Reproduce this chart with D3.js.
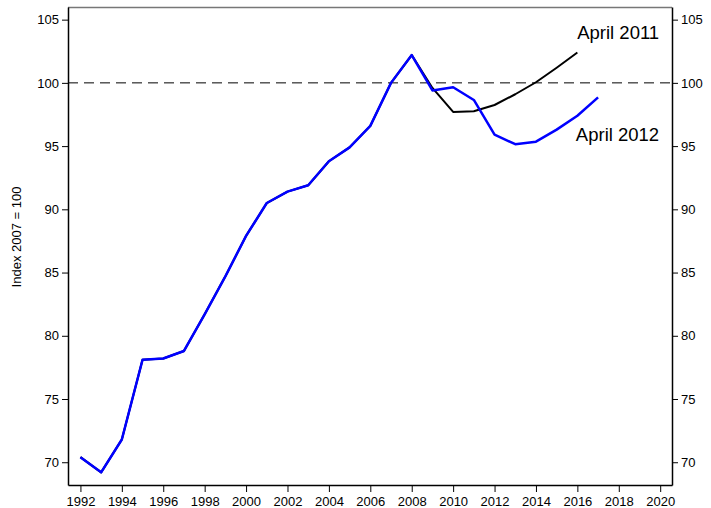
<!DOCTYPE html>
<html>
<head>
<meta charset="utf-8">
<script src="https://cdn.jsdelivr.net/npm/d3@7"></script>
<style>
  body { margin: 0; background: #fff; }
  text { font-family: "Liberation Sans", Arial, sans-serif; }
</style>
</head>
<body>
<div class="wrapper"></div>
<script>
// years and index values
const yearsApr2012 = [1992, 1993, 1994, 1995, 1996, 1997, 1998, 1999, 2000, 2001, 2002, 2003, 2004,
    2005, 2006, 2007, 2008, 2009, 2010, 2011, 2012, 2013, 2014, 2015, 2016, 2017];
const valuesApr2012 = [70.4, 69.2, 71.8, 78.1, 78.2, 78.8, 81.7, 84.7, 87.9, 90.5, 91.4, 91.9, 93.8,
    94.9, 96.6, 100.0, 102.2, 99.4, 99.65, 98.65, 95.9, 95.15, 95.35, 96.3, 97.4, 98.85];

const yearsApr2011 = [1992, 1993, 1994, 1995, 1996, 1997, 1998, 1999, 2000, 2001, 2002, 2003, 2004,
    2005, 2006, 2007, 2008, 2009, 2010, 2011, 2012, 2013, 2014, 2015, 2016];
const valuesApr2011 = [70.4, 69.2, 71.8, 78.1, 78.2, 78.8, 81.7, 84.7, 87.9, 90.5, 91.4, 91.9, 93.8,
    94.9, 96.6, 100.0, 102.2, 99.6, 97.7, 97.75, 98.25, 99.1, 100.05, 101.2, 102.4];

const xTicks = d3.range(1992, 2021, 2);
const yTicks = [70, 75, 80, 85, 90, 95, 100, 105];

const W = 711, H = 508;
const margin = {top: 7, right: 39, bottom: 23, left: 68};
const width = W - margin.left - margin.right,
    height = H - margin.top - margin.bottom;

const svg = d3.select(".wrapper").append("svg")
    .attr("width", W)
    .attr("height", H);

const g = svg.append("g")
    .attr("transform", "translate(" + margin.left + "," + margin.top + ")");

const x = d3.scaleLinear().domain([1991.4, 2020.57]).range([0, width]);
const y = d3.scaleLinear().domain([68.2, 106.0]).range([height, 0]);

// frame: top border grey
g.append("line")
    .attr("x1", 0).attr("x2", width)
    .attr("y1", 0.5).attr("y2", 0.5)
    .attr("stroke", "#777").attr("stroke-width", 1.5);

// axes
const axisStyle = sel => {
    sel.select(".domain").attr("stroke", "#000").attr("stroke-width", 1.5);
    sel.selectAll(".tick line").attr("stroke", "#000").attr("stroke-width", 1);
    sel.selectAll(".tick text").attr("font-size", 13).attr("fill", "#000")
        .style("font-family", '"Liberation Sans", Arial, sans-serif');
};

g.append("g")
    .attr("transform", "translate(0," + height + ")")
    .call(d3.axisBottom(x).tickValues(xTicks).tickFormat(d3.format("d")).tickSize(7).tickSizeOuter(0).tickPadding(5))
    .call(axisStyle);

g.append("g")
    .call(d3.axisLeft(y).tickValues(yTicks).tickSize(6).tickSizeOuter(0).tickPadding(3))
    .call(axisStyle);

g.append("g")
    .attr("transform", "translate(" + width + ",0)")
    .call(d3.axisRight(y).tickValues(yTicks).tickSize(6).tickSizeOuter(0).tickPadding(3))
    .call(axisStyle);

// reference line at 100
g.append("line")
    .attr("x1", 0).attr("x2", width)
    .attr("y1", y(100)).attr("y2", y(100))
    .attr("stroke", "#000").attr("stroke-width", 1)
    .attr("stroke-dasharray", "10,6");

const line = d3.line()
    .x(d => x(d[0]))
    .y(d => y(d[1]));

g.append("path")
    .datum(d3.zip(yearsApr2011, valuesApr2011))
    .attr("fill", "none")
    .attr("stroke", "#000")
    .attr("stroke-width", 2)
    .attr("stroke-linejoin", "round")
    .attr("d", line);

g.append("path")
    .datum(d3.zip(yearsApr2012, valuesApr2012))
    .attr("fill", "none")
    .attr("stroke", "#0000ff")
    .attr("stroke-width", 2.5)
    .attr("stroke-linejoin", "round")
    .attr("d", line);

// series labels
g.append("text")
    .attr("x", x(2019.95)).attr("y", y(103.5))
    .attr("text-anchor", "end")
    .attr("font-size", 18.5)
    .text("April 2011");

g.append("text")
    .attr("x", x(2019.95)).attr("y", y(95.4))
    .attr("text-anchor", "end")
    .attr("font-size", 18.5)
    .text("April 2012");

// y axis title
svg.append("text")
    .attr("transform", "translate(21,237) rotate(-90)")
    .attr("text-anchor", "middle")
    .attr("font-size", 13)
    .text("Index 2007 = 100");
</script>
</body>
</html>
